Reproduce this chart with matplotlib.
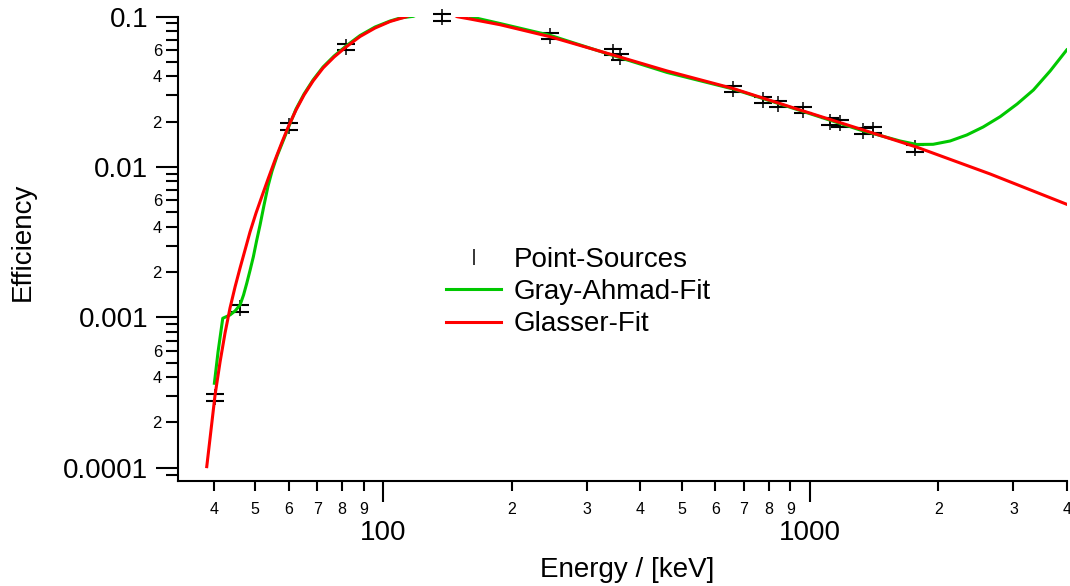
import numpy as np
import matplotlib.pyplot as plt
from matplotlib.lines import Line2D
from matplotlib.ticker import LogLocator, FuncFormatter

plt.rcParams['font.family'] = ['Liberation Sans', 'DejaVu Sans']

# measured full-energy peak efficiencies of the calibration sources
src_energy = [40.3, 46.1, 60.1, 81.8, 137, 246, 345.6, 359, 661, 778, 840,
              966, 1115, 1177, 1335, 1404, 1765]
src_eff = [2.95e-4, 1.15e-3, 0.0186, 0.0626, 0.0988, 0.0742, 0.0581, 0.0538,
           0.0330, 0.0279, 0.0262, 0.0239, 0.0200, 0.0195, 0.0174, 0.0176, 0.0133]
src_err = [1.6e-5, 6e-5, 9e-4, 3.1e-3, 5e-3, 3.7e-3, 2.9e-3, 2.7e-3,
           1.65e-3, 1.4e-3, 1.3e-3, 1.2e-3, 1.0e-3, 9.8e-4, 8.7e-4, 8.8e-4, 6.7e-4]

# Gray-Ahmad fit curve (peak runs off the top of the axis)
ga_energy = [40.16, 40.96, 42.02, 43.70, 44.90, 46.13, 47.01, 47.83, 48.68,
             49.57, 50.43, 51.39, 52.51, 53.66, 54.83, 56.33, 58.19, 60.10,
             62.41, 65.17, 68.41, 72.21, 76.63, 81.75, 88.19, 95.62, 103.68,
             109.43, 117.58, 140, 159.7, 187.7, 245.9, 345.6, 462.7, 660.6,
             948.6, 1311.6, 1627, 1781, 1945, 2132, 2333, 2548, 2793, 3061,
             3342, 3658, 4000]
ga_eff = [3.640e-4, 5.880e-4, 9.848e-4, 1.0358e-3, 1.1012e-3, 1.2072e-3,
          1.4076e-3, 1.6831e-3, 2.047e-3, 2.529e-3, 3.216e-3, 4.109e-3,
          5.581e-3, 7.465e-3, 9.392e-3, 0.011812, 0.014867, 0.018707,
          0.024262, 0.030534, 0.037824, 0.046162, 0.0546, 0.06366, 0.074776,
          0.085154, 0.093345, 0.09773, 0.1003, 0.125, 0.0997, 0.08985,
          0.07499, 0.05503, 0.04244, 0.03296, 0.023714, 0.017593, 0.014868,
          0.014089, 0.014132, 0.014868, 0.016301, 0.01842, 0.021573,
          0.026199, 0.032452, 0.04342, 0.0599]

# Glasser fit curve
gl_energy = [38.54, 39.24, 40.31, 41.41, 42.54, 43.70, 44.90, 46.13, 47.39,
             48.68, 50.29, 51.94, 53.66, 55.72, 57.87, 60.10, 62.41, 65.17,
             68.41, 72.21, 76.63, 81.75, 88.19, 95.62, 103.68, 113.66, 130,
             148.9, 159.7, 187.7, 245.9, 345.6, 462.7, 660.6, 948.6, 1311.6,
             1783.7, 2646, 4000]
gl_eff = [1.0155e-4, 1.576e-4, 3.044e-4, 5.043e-4, 7.862e-4, 1.153e-3,
          1.5906e-3, 2.127e-3, 2.802e-3, 3.692e-3, 4.937e-3, 6.405e-3,
          8.31e-3, 0.011111, 0.01464, 0.018995, 0.023893, 0.03007, 0.03725,
          0.04546, 0.05377, 0.06269, 0.07364, 0.08386, 0.092634, 0.1,
          0.125, 0.0997, 0.09624, 0.0882, 0.07339, 0.05546, 0.04342,
          0.03321, 0.023893, 0.017864, 0.013503, 0.00897, 0.00564]

fig = plt.figure(figsize=(10.7, 5.86), dpi=100)
ax = fig.add_axes([0.16636, 0.17918, 0.83056, 0.79266])

eb = ax.errorbar(src_energy, src_eff, yerr=src_err, fmt='none', ecolor='black',
                 elinewidth=1.1, capsize=6.5, capthick=1.5, zorder=2)
for art in eb.get_children():
    art.set_clip_on(False)
ax.plot(src_energy, src_eff, linestyle='none', marker='|', ms=11, mew=1.1,
        color='black', clip_on=False, zorder=2)

ax.plot(ga_energy, ga_eff, color='#00c800', lw=2.2, zorder=3)
ax.plot(gl_energy, gl_eff, color='#ff0000', lw=2.2, zorder=4)

ax.set_xscale('log')
ax.set_yscale('log')
ax.set_xlim(33.0, 4000)
ax.set_ylim(8.15e-5, 0.1)

for side in ('top', 'right'):
    ax.spines[side].set_visible(False)
for side in ('left', 'bottom'):
    ax.spines[side].set_linewidth(1.5)


def lead_digit(v):
    return int(round(v / 10 ** np.floor(np.log10(v) + 1e-9)))


ax.xaxis.set_major_locator(LogLocator(base=10))
ax.xaxis.set_minor_locator(LogLocator(base=10, subs=np.arange(2, 10)))
ax.xaxis.set_major_formatter(FuncFormatter(lambda v, p: f'{v:g}'))
ax.xaxis.set_minor_formatter(FuncFormatter(lambda v, p: str(lead_digit(v))))

ax.yaxis.set_major_locator(LogLocator(base=10))
ax.yaxis.set_minor_locator(LogLocator(base=10, subs=np.arange(2, 10)))
ax.yaxis.set_major_formatter(FuncFormatter(lambda v, p: f'{v:g}'))
ax.yaxis.set_minor_formatter(FuncFormatter(
    lambda v, p: str(lead_digit(v)) if lead_digit(v) in (2, 4, 6) else ''))

ax.tick_params(axis='x', which='major', length=15, width=1.5, labelsize=20, pad=13)
ax.tick_params(axis='x', which='minor', length=7.2, width=1.5, labelsize=11.5, pad=8)
ax.tick_params(axis='y', which='major', length=16, width=1.5, labelsize=20, pad=5.5)
ax.tick_params(axis='y', which='minor', length=8.6, width=1.5, labelsize=12, pad=3)

ax.set_xlabel('Energy / [keV]', fontsize=20)
ax.xaxis.set_label_coords(0.506, -0.1636)
ax.set_ylabel('Efficiency', fontsize=20)
ax.yaxis.set_label_coords(-0.16, 0.515)

handles = [
    Line2D([], [], linestyle='none', marker='|', ms=11, mew=1.1, color='black'),
    Line2D([], [], color='#00c800', lw=2.2),
    Line2D([], [], color='#ff0000', lw=2.2),
]
ax.legend(handles, ['Point-Sources', 'Gray-Ahmad-Fit', 'Glasser-Fit'],
          loc='upper left', bbox_to_anchor=((446 - 178) / 889, (481 - 246.7) / 464.5),
          frameon=False, fontsize=20, borderpad=0, borderaxespad=0,
          handlelength=2.0, handletextpad=0.45, labelspacing=0.23)

fig.savefig('out.png', dpi=100)
